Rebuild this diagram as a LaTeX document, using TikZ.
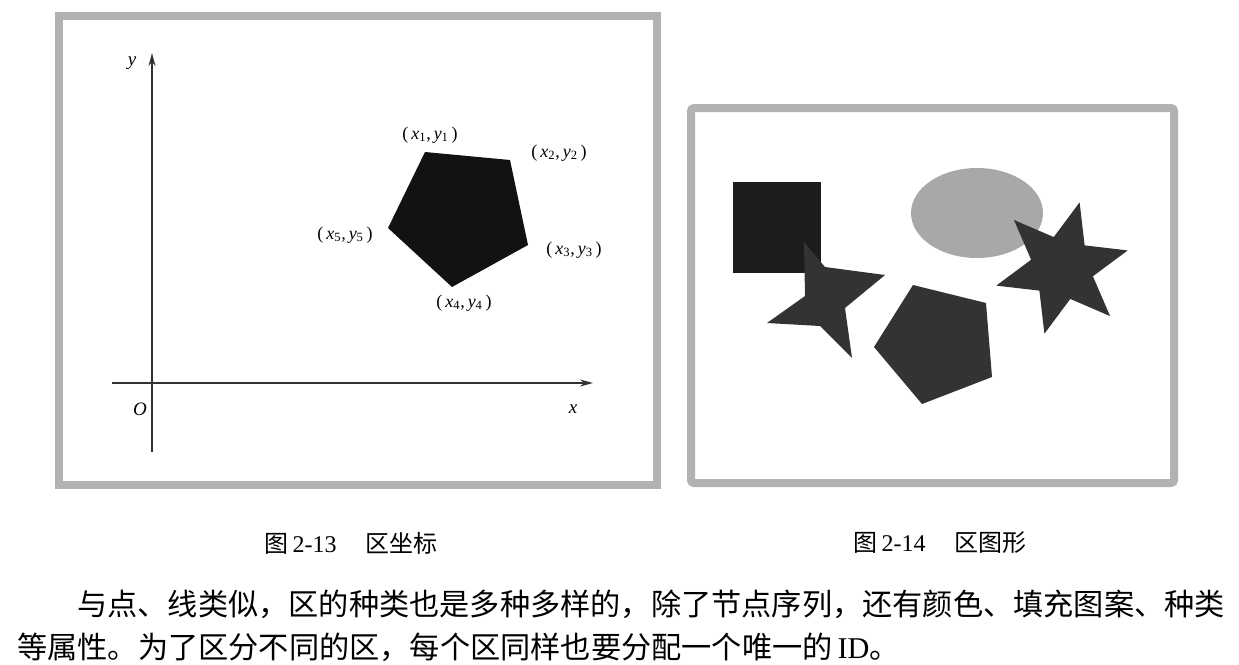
\documentclass[tikz,border=0pt]{standalone}
\usepackage{fontspec}
\setmainfont{Liberation Serif}
\newfontfamily\cjk{Noto Sans CJK SC}
\usetikzlibrary{arrows.meta}

\newcommand{\ptxy}[1]{(\,\textit{x}\textsubscript{#1},\,\textit{y}\textsubscript{#1}\,)}

\begin{document}
\begin{tikzpicture}[x=1pt,y=-1pt,
    frame/.style={draw=black!30, line width=8pt},
    axis/.style={draw=black!80, line width=1.3pt, -{Stealth[length=13pt,width=7pt]}},
    ptlabel/.style={font=\fontsize{18}{18}\selectfont, inner sep=0pt},
    axlabel/.style={font=\fontsize{19}{19}\selectfont\itshape, inner sep=0pt},
    caption/.style={font=\fontsize{24}{24}\selectfont, inner sep=0pt},
    bodyline/.style={font=\fontsize{30.2}{31}\selectfont\cjk, inner sep=0pt, anchor=west}]
    \useasboundingbox (0,0) rectangle (1239,664);

    %frames
    \draw[frame] (59,15.5) rectangle (657,485);
    \draw[frame, rounded corners=3pt] (691,108) rectangle (1174,483);

    %axes
    \coordinate (ybot) at (152,452);
    \coordinate (ytop) at (152,53);
    \coordinate (xleft) at (112,383);
    \coordinate (xright) at (593,383);
    \draw[axis] (ybot) -- (ytop);
    \draw[axis] (xleft) -- (xright);
    \node[axlabel] (ylab) at (132,63) {y};
    \node[axlabel] (xlab) at (573,409) {x};
    \node[axlabel] (olab) at (140,409) {O};

    %region
    \coordinate (v1) at (425,152);
    \coordinate (v2) at (510,160);
    \coordinate (v3) at (528,245);
    \coordinate (v4) at (452,287);
    \coordinate (v5) at (388,228);
    \fill[black!93] (v1) -- (v2) -- (v3) -- (v4) -- (v5) -- cycle;
    \node[ptlabel] (p1) at (430,135) {\ptxy{1}};
    \node[ptlabel] (p2) at (559,153) {\ptxy{2}};
    \node[ptlabel] (p3) at (574,250) {\ptxy{3}};
    \node[ptlabel] (p4) at (464,303) {\ptxy{4}};
    \node[ptlabel] (p5) at (345,235) {\ptxy{5}};

    %shapes
    \fill[black!89] (733,182) rectangle (821,273);
    \fill[black!34] (977,213) ellipse [x radius=66, y radius=45];
    \fill[black!80] (804,242) -- (825,267) -- (885,275) -- (845,308) -- (852,358)
        -- (820,326) -- (767,323) -- (805,296) -- cycle;
    \fill[black!80] (913,285) -- (986,303) -- (992,377) -- (922,404) -- (874,347) -- cycle;
    \fill[black!80, shift={(1062,268)}] (-75:68) \foreach \a in {135,195,...,435} {
        -- ({30-\a}:32) -- ({-\a}:68) } -- cycle;

    %captions
    \node[caption] (cap13) at (351,543) {{\cjk 图}\,2-13\hspace{1.2em}{\cjk 区坐标}};
    \node[caption] (cap14) at (940,543) {{\cjk 图}\,2-14\hspace{1.2em}{\cjk 区图形}};

    %text
    \node[bodyline] (line1) at (77,604) {与点、线类似，区的种类也是多种多样的，除了节点序列，还有颜色、填充图案、种类};
    \node[bodyline] (line2) at (17,647) {等属性。为了区分不同的区，每个区同样也要分配一个唯一的{\rmfamily\,ID}。};
\end{tikzpicture}
\end{document}
